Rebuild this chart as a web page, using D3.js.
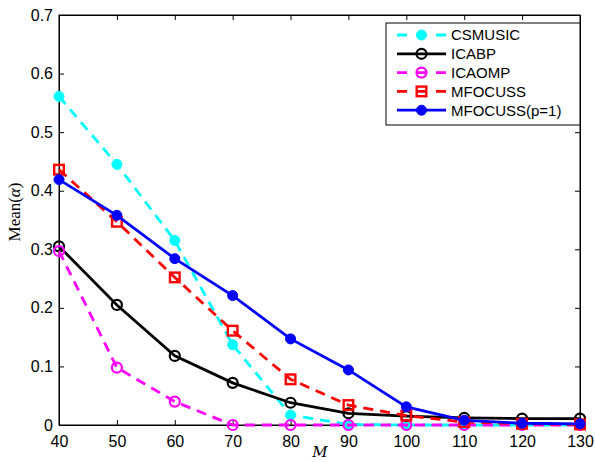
<!DOCTYPE html>
<html>
<head>
<meta charset="utf-8">
<script src="https://cdn.jsdelivr.net/npm/d3@7"></script>
<style>
  body { margin: 0; background: #fff; }
  svg text { font-family: "Liberation Sans", Arial, sans-serif; }
</style>
</head>
<body>
<div id="chart"></div>
<script>
var mValues = [40, 50, 60, 70, 80, 90, 100, 110, 120, 130];
var yTicks = [0, 0.1, 0.2, 0.3, 0.4, 0.5, 0.6, 0.7];

var csmusic = [0.561, 0.445, 0.315, 0.137, 0.017, 0.001, 0.0, 0.0, 0.0, 0.0];
var icabp = [0.305, 0.205, 0.118, 0.072, 0.038, 0.020, 0.015, 0.012, 0.011, 0.011];
var icaomp = [0.297, 0.098, 0.040, 0.0, 0.0, 0.0, 0.0, 0.0, 0.0, 0.0];
var mfocuss = [0.436, 0.347, 0.252, 0.161, 0.078, 0.034, 0.016, 0.005, 0.002, 0.001];
var mfocussP1 = [0.419, 0.358, 0.284, 0.221, 0.147, 0.094, 0.031, 0.008, 0.003, 0.002];

var seriesNames = ["CSMUSIC", "ICABP", "ICAOMP", "MFOCUSS", "MFOCUSS(p=1)"];

var w = 595, h = 462;
var padLeft = 59, padRight = 580, padTop = 15, padBottom = 425;

var svg = d3.select("#chart").append("svg")
  .attr("width", w)
  .attr("height", h);

var x = d3.scaleLinear().domain([40, 130]).range([padLeft, padRight]);
var y = d3.scaleLinear().domain([0, 0.7]).range([padBottom, padTop]);

var series = [
  { name: seriesNames[0], values: csmusic, color: "#00ffff", dash: "10,7", marker: "dot" },
  { name: seriesNames[1], values: icabp, color: "#000000", dash: null, marker: "ring" },
  { name: seriesNames[2], values: icaomp, color: "#ff00ff", dash: "10,7", marker: "ring" },
  { name: seriesNames[3], values: mfocuss, color: "#ff0000", dash: "10,7", marker: "square" },
  { name: seriesNames[4], values: mfocussP1, color: "#0000ff", dash: null, marker: "dot" }
];

// axes box
var tickLen = 5;
svg.append("rect")
  .attr("x", padLeft).attr("y", padTop)
  .attr("width", padRight - padLeft).attr("height", padBottom - padTop)
  .attr("fill", "none").attr("stroke", "#000").attr("stroke-width", 1);

var xAxis = d3.axisBottom(x).tickValues(mValues).tickSizeInner(-tickLen).tickSizeOuter(0).tickPadding(8);
var yAxis = d3.axisLeft(y).tickValues(yTicks).tickSizeInner(-tickLen).tickSizeOuter(0).tickPadding(6)
  .tickFormat(function(d) { return d === 0 ? "0" : d3.format(".1f")(d); });

var gx = svg.append("g").attr("transform", "translate(0," + padBottom + ")").call(xAxis);
var gy = svg.append("g").attr("transform", "translate(" + padLeft + ",0)").call(yAxis);
svg.append("g").attr("transform", "translate(0," + padTop + ")")
  .call(d3.axisTop(x).tickValues(mValues).tickSizeInner(-tickLen).tickSizeOuter(0).tickFormat(""));
svg.append("g").attr("transform", "translate(" + padRight + ",0)")
  .call(d3.axisRight(y).tickValues(yTicks).tickSizeInner(-tickLen).tickSizeOuter(0).tickFormat(""));

svg.selectAll(".domain").attr("stroke", "#000").attr("stroke-width", 1);
svg.selectAll(".tick line").attr("stroke", "#000");
svg.selectAll(".tick text")
  .attr("fill", "#000")
  .style("font-size", "16px")
  .style("font-family", "'Liberation Sans', Arial, sans-serif");
gx.selectAll(".tick text").attr("dy", "0.85em");

// axis labels
svg.append("text")
  .attr("x", 320).attr("y", 457)
  .attr("text-anchor", "middle")
  .style("font-family", "'DejaVu Serif', 'Liberation Serif', serif")
  .style("font-style", "italic")
  .style("font-size", "15px")
  .text("M");

svg.append("text")
  .attr("transform", "translate(20,212) rotate(-90)")
  .attr("text-anchor", "middle")
  .style("font-family", "'Liberation Serif', 'DejaVu Serif', serif")
  .style("font-size", "17px")
  .html("Mean(<tspan font-style='italic'>α</tspan>)");

var line = d3.line()
  .x(function(d, i) { return x(mValues[i]); })
  .y(function(d) { return y(d); });

function drawMarker(g, s, cx, cy) {
  if (s.marker === "dot") {
    g.append("circle").attr("cx", cx).attr("cy", cy).attr("r", 5)
      .attr("fill", s.color).attr("stroke", s.color).attr("stroke-width", 1);
  } else if (s.marker === "ring") {
    g.append("circle").attr("cx", cx).attr("cy", cy).attr("r", 5)
      .attr("fill", "none").attr("stroke", s.color).attr("stroke-width", 2.2);
  } else {
    g.append("rect").attr("x", cx - 4.8).attr("y", cy - 4.8).attr("width", 9.6).attr("height", 9.6)
      .attr("fill", "none").attr("stroke", s.color).attr("stroke-width", 2.4);
  }
}

var plot = svg.append("g");
series.forEach(function(s) {
  var g = plot.append("g");
  g.append("path")
    .datum(s.values)
    .attr("d", line)
    .attr("fill", "none")
    .attr("stroke", s.color)
    .attr("stroke-width", 2.8)
    .attr("stroke-dasharray", s.dash);
  s.values.forEach(function(v, i) {
    drawMarker(g, s, x(mValues[i]), y(v));
  });
});

// legend
var legX = 386, legY = 23, legW = 194, legH = 102, rowH = 18.8;
var leg = svg.append("g");
leg.append("rect")
  .attr("x", legX).attr("y", legY).attr("width", legW).attr("height", legH)
  .attr("fill", "#fff").attr("stroke", "#000").attr("stroke-width", 1);

series.forEach(function(s, i) {
  var ry = legY + 12 + i * rowH;
  var g = leg.append("g");
  g.append("line")
    .attr("x1", 397).attr("x2", 446).attr("y1", ry).attr("y2", ry)
    .attr("stroke", s.color).attr("stroke-width", 2.8)
    .attr("stroke-dasharray", s.dash ? "10,9.5" : null);
  drawMarker(g, s, 421.5, ry);
  g.append("text")
    .attr("x", 451).attr("y", ry).attr("dy", "0.36em")
    .style("font-size", "15px")
    .attr("fill", "#000")
    .text(s.name);
});
</script>
</body>
</html>
